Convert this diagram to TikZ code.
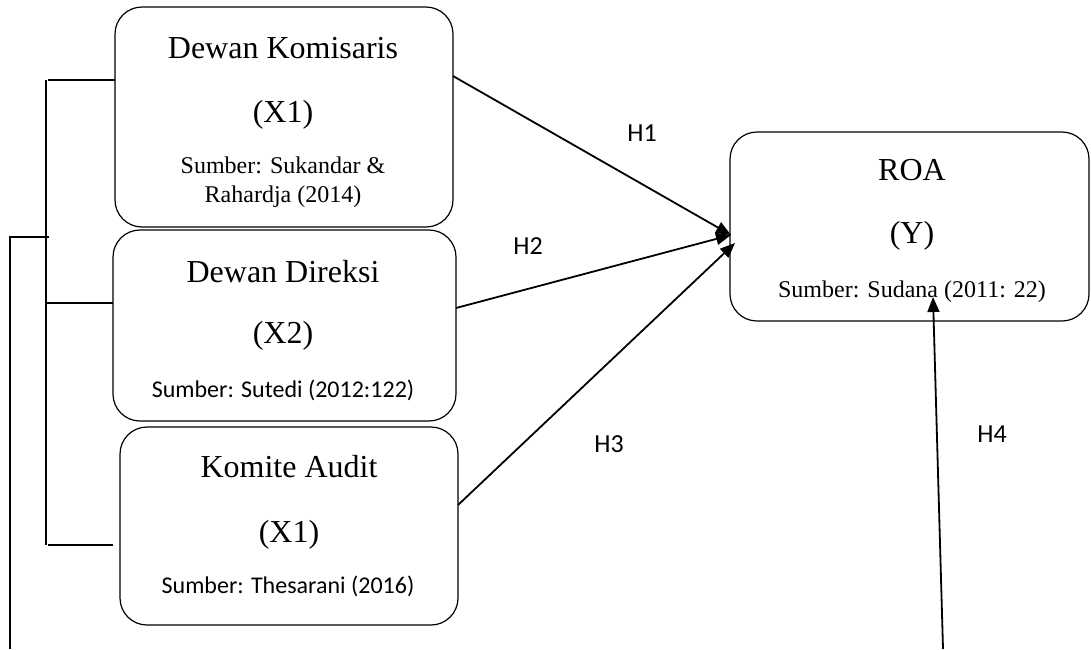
\documentclass[tikz,border=0pt]{standalone}
\usepackage{fontspec}
\setmainfont{Liberation Serif}
\newfontfamily\calfont{Carlito}
\usetikzlibrary{arrows.meta}
\begin{document}
\begin{tikzpicture}[x=1pt,y=-1pt,
 box/.style={draw, rounded corners=27pt, line width=1.2pt, inner sep=0pt, outer sep=0pt},
 ttl/.style={font=\fontsize{32}{36}\selectfont, anchor=base, inner sep=0pt},
 src/.style={font=\fontsize{24}{28}\selectfont, anchor=base, inner sep=0pt},
 srcs/.style={font=\calfont\fontsize{24}{28}\selectfont, anchor=base, inner sep=0pt},
 hl/.style={font=\calfont\fontsize{26}{30}\selectfont, inner sep=0pt},
 arr/.style={line width=1.8pt, -{Triangle[length=15pt,width=12pt]}},
 brk/.style={line width=2pt}]
\useasboundingbox[fill=white] (0,0) rectangle (1091,649);

% boxes
\node[box, minimum width=338pt, minimum height=220pt] (b1) at (284,117) {};
\node[box, minimum width=343pt, minimum height=191pt] (b2) at (284.5,325.5) {};
\node[box, minimum width=338pt, minimum height=198pt] (b3) at (289,526) {};
\node[box, minimum width=359pt, minimum height=189pt] (roa) at (909.5,226.5) {};

% texts
\node[ttl] (t1) at (283,58) {Dewan Komisaris};
\node[ttl] (x1) at (283,122) {(X1)};
\node[src] (s1a) at (283,173) {Sumber: Sukandar \&};
\node[src] (s1b) at (283,202) {Rahardja (2014)};

\node[ttl] (t2) at (283,282) {Dewan Direksi};
\node[ttl] (x2) at (283,343) {(X2)};
\node[srcs] (s2) at (283,397) {Sumber: Sutedi (2012:122)};

\node[ttl] (t3) at (289,477) {Komite Audit};
\node[ttl] (x3) at (289,542) {(X1)};
\node[srcs] (s3) at (288,593) {Sumber: Thesarani (2016)};

\node[ttl] (t4) at (912,180) {ROA};
\node[ttl] (y4) at (912,243) {(Y)};
\node[src] (s4) at (912,297) {Sumber: Sudana (2011: 22)};

% hypothesis labels
\node[hl] (h1) at (642,133) {H1};
\node[hl] (h2) at (528,246) {H2};
\node[hl] (h3) at (609,444) {H3};
\node[hl] (h4) at (992,434) {H4};

% bracket
\coordinate (bt) at (46,80);
\coordinate (bm) at (46,303);
\coordinate (bb) at (46,545);
\coordinate (bj) at (46,237);
\coordinate (lt) at (10,237);
\coordinate (lb) at (10,649);
\coordinate (e3) at (113,545);
\draw[brk] (bt) -- (bb);
\draw[brk] ([xshift=2pt]bt) -- (b1.west |- bt);
\draw[brk] (bm) -- (b2.west |- bm);
\draw[brk] ([xshift=2pt]bb) -- (e3);
\draw[brk] (lb) -- (lt) -- ([xshift=3pt]bj);

% arrows
\coordinate (tip12) at (731,235);
\coordinate (tip3) at (735,243);
\coordinate (h4s) at (943,649);
\coordinate (h4e) at (933,297);
\draw[arr] (b1.east |- 0,76) -- (tip12);
\draw[arr] (b2.east |- 0,308) -- (tip12);
\draw[arr] (b3.east |- 0,505) -- (tip3);
\draw[arr] (h4s) -- (h4e);
\end{tikzpicture}
\end{document}
